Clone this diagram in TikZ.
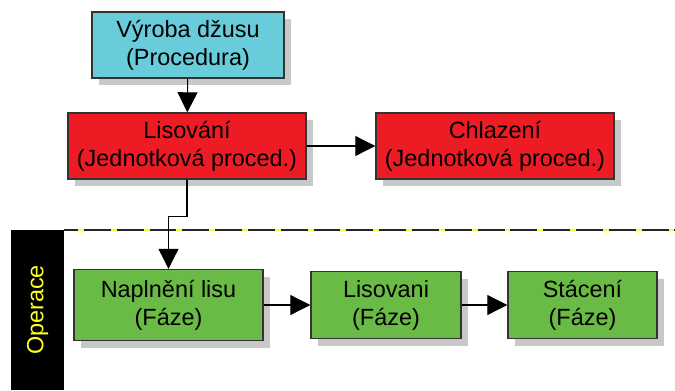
\documentclass[tikz,border=0pt]{standalone}
\usepackage{fontspec}
\setmainfont{Liberation Sans}
\usepackage{tikz}
\usetikzlibrary{arrows.meta,positioning,shadows}

\definecolor{proccyan}{RGB}{104,204,218}
\definecolor{unitred}{RGB}{237,28,36}
\definecolor{phasegreen}{RGB}{106,186,70}
\definecolor{shadowgray}{RGB}{200,200,200}
\definecolor{laneyellow}{RGB}{255,255,40}

\begin{document}
\begin{tikzpicture}[x=0.03cm, y=-0.03cm,
  box/.style={rectangle, draw=black!80, line width=1.2pt, inner sep=0pt, align=center,
    font=\fontsize{20}{24}\selectfont,
    drop shadow={shadow xshift=0.21cm, shadow yshift=-0.21cm, fill=shadowgray, opacity=1}},
  procbox/.style={box, fill=proccyan, minimum width=5.76cm, minimum height=1.98cm},
  unitbox/.style={box, fill=unitred, minimum width=7.14cm, minimum height=1.98cm},
  phasebox/.style={box, fill=phasegreen, minimum height=2.01cm},
  lanebox/.style={rectangle, fill=black, text=laneyellow, inner sep=0pt,
    font=\fontsize{20}{24}\selectfont},
  link/.style={line width=0.9pt, -{Triangle[length=0.6cm, width=0.6cm]}}
]
\useasboundingbox (0,0) rectangle (675,390);

% swimlane
\node[lanebox, rotate=90, minimum width=4.8cm, minimum height=1.59cm] (lane) at (37.5,310) {Operace};
\coordinate (sepL) at (64,230);
\coordinate (sepR) at (675,230);
\draw[line width=1.2pt, black!85] (sepL) -- (sepR);
\draw[line width=1.2pt, laneyellow, dash pattern=on 5 off 23, dash phase=-12] (sepL) -- (sepR);

% boxes
\node[procbox] (vyroba) at (188,45) {Výroba džusu\\(Procedura)};
\node[unitbox] (lis) at (187,146) {Lisování\\(Jednotková proced.)};
\node[unitbox] (chl) at (495,146) {Chlazení\\(Jednotková proced.)};
\node[phasebox, minimum width=5.67cm, minimum height=2.13cm] (napl) at (168.5,305) {Naplnění lisu\\(Fáze)};
\node[phasebox, minimum width=4.5cm] (lisf) at (386,305) {Lisovani\\(Fáze)};
\node[phasebox, minimum width=4.47cm] (stac) at (582.5,305) {Stácení\\(Fáze)};

% connectors
\draw[link] (vyroba) -- (lis);
\draw[link] (lis) -- (chl);
\draw[link] (lis.south) -- ++(0,37) -| (napl.north);
\draw[link] (napl) -- (lisf);
\draw[link] (lisf) -- (stac);
\end{tikzpicture}
\end{document}
